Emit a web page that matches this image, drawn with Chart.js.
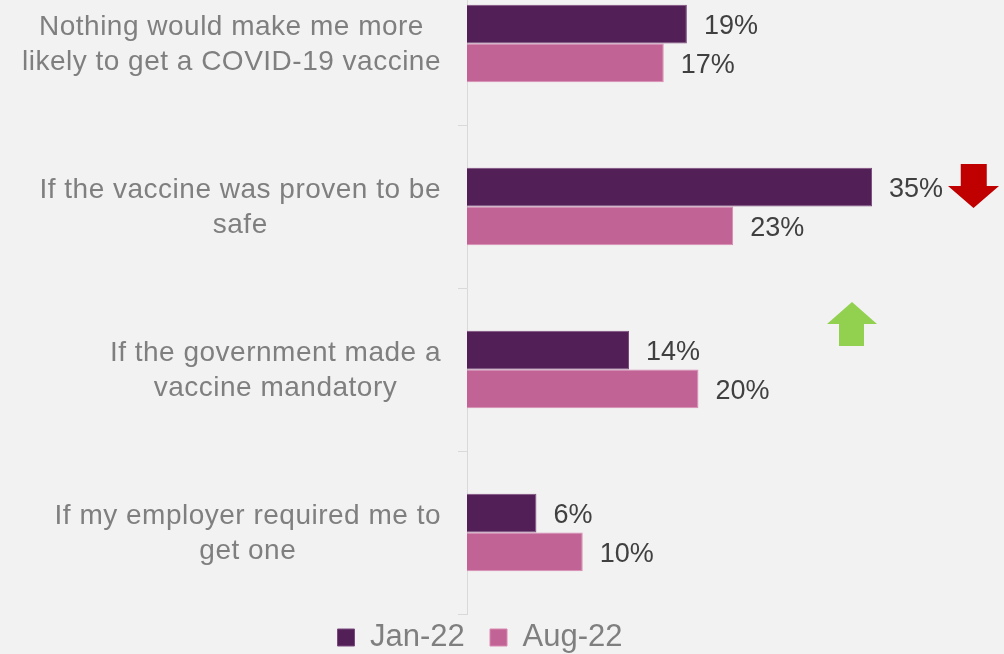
<!DOCTYPE html>
<html>
<head>
<meta charset="utf-8">
<script src="https://cdn.jsdelivr.net/npm/chart.js@4.4.1/dist/chart.umd.min.js"></script>
<style>
  html, body { margin: 0; padding: 0; background: #f2f2f2; overflow: hidden; width: 1004px; height: 654px; }
  #wrap { position: absolute; left: 0; top: -38px; width: 1004px; height: 701px; }
  .arrow { position: absolute; }
  #down { left: 948px; top: 164px; width: 51px; height: 44px; background: #c00000;
    clip-path: polygon(25% 0, 76% 0, 76% 50%, 100% 50%, 50% 100%, 0 50%, 25% 50%); }
  #up { left: 827px; top: 302px; width: 50px; height: 44px; background: #92d050;
    clip-path: polygon(50% 0, 100% 50%, 74% 50%, 74% 100%, 24% 100%, 24% 50%, 0 50%); }
</style>
</head>
<body>
<div id="wrap"><canvas id="chart"></canvas></div>
<div class="arrow" id="down"></div>
<div class="arrow" id="up"></div>
<script>
const categories = [
  ['Nothing would make me more', 'likely to get a COVID-19 vaccine'],
  ['If the vaccine was proven to be', 'safe'],
  ['If the government made a', 'vaccine mandatory'],
  ['If my employer required me to', 'get one']
];
const seriesNames = ['Jan-22', 'Aug-22'];
const jan22 = [19, 35, 14, 6];
const aug22 = [17, 23, 20, 10];

const FONT = '"Liberation Sans", Arial, sans-serif';

// category labels (centred lines, block right-aligned) and value labels
const textPlugin = {
  id: 'texts',
  afterDatasetsDraw(chart) {
    const c = chart.ctx;
    const ys = chart.scales.y;
    c.save();
    c.font = '28px ' + FONT;
    c.letterSpacing = '0.5px';
    c.fillStyle = '#7f7f7f';
    c.textAlign = 'center';
    c.textBaseline = 'alphabetic';
    categories.forEach((lines, i) => {
      const y = ys.getPixelForValue(i);
      const w = Math.max(...lines.map(l => c.measureText(l).width));
      const cx = 441 - w / 2;
      lines.forEach((l, k) => c.fillText(l, cx, y + 9 + (k - (lines.length - 1) / 2) * 35));
    });

    c.font = '27px ' + FONT;
    c.letterSpacing = '0px';
    c.fillStyle = '#404040';
    c.textAlign = 'left';
    chart.data.datasets.forEach((ds, d) => {
      chart.getDatasetMeta(d).data.forEach((bar, i) => {
        c.fillText(ds.data[i] + '%', bar.x + 17, bar.y + 10);
      });
    });
    c.restore();
  }
};

new Chart(document.getElementById('chart'), {
  type: 'bar',
  data: {
    labels: categories,
    datasets: [
      { label: seriesNames[0], data: jan22, backgroundColor: '#521f56', borderColor: '#7b4b7e', borderWidth: 1 },
      { label: seriesNames[1], data: aug22, backgroundColor: '#c26395', borderColor: '#d98ab2', borderWidth: 1 }
    ]
  },
  options: {
    indexAxis: 'y',
    responsive: true,
    maintainAspectRatio: false,
    animation: false,
    layout: { padding: { left: 0, right: 44, top: 0, bottom: 0 } },
    datasets: { bar: { categoryPercentage: 0.475, barPercentage: 1 } },
    scales: {
      x: { display: false, min: 0, max: 42.6 },
      y: {
        ticks: { display: false },
        grid: { drawOnChartArea: false, drawTicks: true, tickLength: 9, color: '#d9d9d9' },
        border: { color: '#d9d9d9' },
        afterFit: (s) => { s.width = 467; }
      }
    },
    plugins: {
      tooltip: { enabled: false },
      legend: {
        position: 'bottom',
        labels: {
          boxWidth: 17,
          boxHeight: 17,
          padding: 8,
          color: '#7f7f7f',
          font: { family: FONT, size: 31 },
          generateLabels: (ch) => Chart.defaults.plugins.legend.labels.generateLabels(ch)
            .map((it, i) => ({ ...it, text: i === 0 ? it.text + '\u00a0\u00a0' : it.text }))
        }
      }
    }
  },
  plugins: [textPlugin]
});
</script>
</body>
</html>
